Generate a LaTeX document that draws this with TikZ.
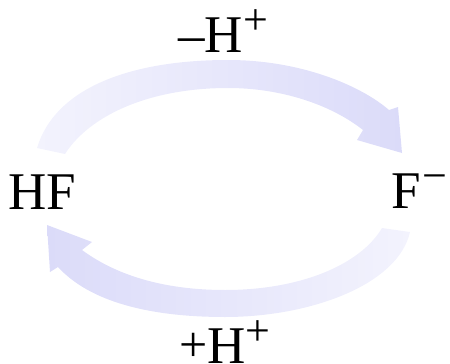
\documentclass[tikz,border=0pt]{standalone}
\usepackage{fontspec}
\setmainfont{Liberation Serif}
\definecolor{arrDeep}{RGB}{219,219,249}
\definecolor{arrPale}{RGB}{243,243,253}
\newcommand\supmark[1]{\raisebox{17.5pt}{\fontsize{44}{44}\selectfont #1}}
\begin{document}
\begin{tikzpicture}[x=1pt,y=-1pt,
  chem/.style={inner sep=0pt,outer sep=0pt,font=\fontsize{53}{53}\selectfont,anchor=base west},
  toparrow/.style={left color=arrPale,right color=arrDeep,draw=none},
  botarrow/.style={left color=arrDeep,right color=arrPale,draw=none}]
\useasboundingbox (0,0) rectangle (450,364);
% top arrow: HF -> F-
\shade[toparrow] (37,148) .. controls (55,88) and (130,60) .. (228,60)
  .. controls (300,60) and (360,85) .. (389,110)
  -- (398,107) -- (402,153) -- (357,140) -- (363,130)
  .. controls (330,104) and (280,88) .. (228,88)
  .. controls (150,88) and (90,115) .. (65,154) -- cycle;
% bottom arrow: F- -> HF
\shade[botarrow] (47,225) -- (92,242) -- (82,250)
  .. controls (120,278) and (170,290) .. (225,290)
  .. controls (300,290) and (360,265) .. (382,228)
  -- (410,232)
  .. controls (398,285) and (310,317) .. (225,317)
  .. controls (150,317) and (90,302) .. (58,267)
  -- (50,272) -- cycle;
% species
\node[chem] (hf) at (8.5,209) {HF};
\node[chem] (fm) at (391,208) {F\kern2pt\supmark{−}};
% labels
\node[chem] (lose) at (178,52) {–H\kern0.5pt\supmark{+}};
\node[chem] (gain) at (179,363) {\raisebox{1.5pt}{\fontsize{50}{50}\selectfont +}\kern0pt H\kern0.5pt\supmark{+}};
\end{tikzpicture}
\end{document}
